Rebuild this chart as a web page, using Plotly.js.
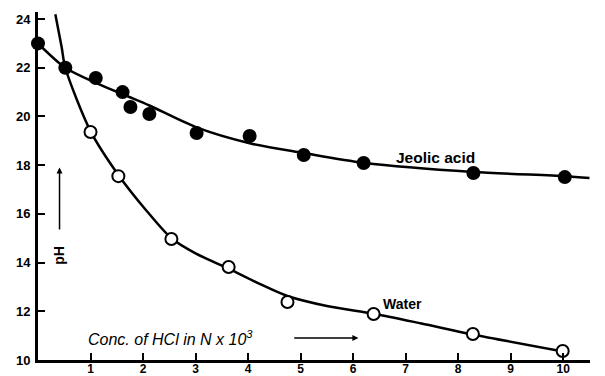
<!DOCTYPE html>
<html>
<head>
<meta charset="utf-8">
<script src="https://cdn.plot.ly/plotly-3.0.1.min.js"></script>
<style>html,body{margin:0;padding:0;background:#fff;}#chart{width:605px;height:376px;}</style>
</head>
<body>
<div id="chart"></div>
<script>
// Measured points
var jeolicX = [0, 0.52, 1.1, 1.61, 1.76, 2.12, 3.02, 4.03, 5.06, 6.2, 8.29, 10.03];
var jeolicY = [23.0, 22.0, 21.58, 21.0, 20.39, 20.1, 19.32, 19.2, 18.42, 18.09, 17.68, 17.51];
var waterX = [1.0, 1.53, 2.54, 3.63, 4.75, 6.39, 8.28, 9.99];
var waterY = [19.36, 17.55, 14.97, 13.82, 12.38, 11.89, 11.07, 10.37];
// Smooth curves
var jeolicCurveX = [0, 0.52, 1.11, 1.74, 2.12, 3.02, 4.03, 5.06, 6.2, 8.29, 10.03, 10.5];
var jeolicCurveY = [23.0, 22.0, 21.37, 20.8, 20.45, 19.55, 18.9, 18.5, 18.1, 17.72, 17.55, 17.47];
var waterCurveX = [0.33, 0.45, 0.52, 1.0, 1.53, 2.07, 2.54, 3.0, 3.63, 4.22, 4.75, 5.5, 6.39, 7.3, 8.28, 10.0];
var waterCurveY = [24.2, 22.85, 22.0, 19.4, 17.6, 16.12, 15.0, 14.38, 13.75, 13.13, 12.63, 12.22, 11.9, 11.5, 11.05, 10.35];
var xTicks = [1, 2, 3, 4, 5, 6, 7, 8, 9, 10];
var yTicks = [10, 12, 14, 16, 18, 20, 22, 24];

var F = "Liberation Sans, Arial, sans-serif";
var traces = [
  {x: jeolicCurveX, y: jeolicCurveY, mode: "lines", line: {color: "#000", width: 2.5, shape: "spline", smoothing: 0.8}, hoverinfo: "skip"},
  {x: waterCurveX, y: waterCurveY, mode: "lines", line: {color: "#000", width: 2.5, shape: "spline", smoothing: 0.8}, hoverinfo: "skip"},
  {x: jeolicX, y: jeolicY, mode: "markers", marker: {color: "#000", size: 14, line: {width: 0}}, cliponaxis: false},
  {x: waterX, y: waterY, mode: "markers", marker: {color: "#fff", size: 12, line: {color: "#000", width: 2}}, cliponaxis: false}
];
var layout = {
  width: 605, height: 376,
  margin: {l: 38, r: 15, t: 12, b: 16},
  paper_bgcolor: "#fff", plot_bgcolor: "#fff",
  showlegend: false,
  font: {family: F, color: "#000"},
  xaxis: {
    range: [0, 10.51], tickvals: xTicks, ticktext: xTicks.map(function(v){return "<b>"+v+"</b>";}),
    ticks: "inside", ticklen: 7, tickwidth: 2, tickcolor: "#000",
    showline: true, linecolor: "#000", linewidth: 3, showgrid: false, zeroline: false,
    tickfont: {size: 12, family: F}, ticklabelstandoff: -4
  },
  yaxis: {
    range: [10, 24.29], tickvals: yTicks, ticktext: yTicks.map(function(v){return "<b>"+v+"</b>";}),
    ticks: "inside", ticklen: 7, tickwidth: 2, tickcolor: "#000",
    showline: true, linecolor: "#000", linewidth: 3, showgrid: false, zeroline: false,
    tickfont: {size: 13, family: F}, ticklabelstandoff: 2
  },
  annotations: [
    {x: 7.57, y: 18.33, xref: "x", yref: "y", text: "<b>Jeolic acid</b>", showarrow: false, font: {size: 15.5, family: F}, xanchor: "center"},
    {x: 6.94, y: 12.3, xref: "x", yref: "y", text: "<b>Water</b>", showarrow: false, font: {size: 14, family: F}, xanchor: "center"},
    {x: 0.92, y: 10.9, xref: "x", yref: "y", text: "<i>Conc. of HCl in N x 10<sup>3</sup></i>", showarrow: false, font: {size: 16, family: F}, xanchor: "left"},
    {x: 6.1, y: 10.9, ax: 4.85, ay: 10.9, axref: "x", ayref: "y", xref: "x", yref: "y", text: "", showarrow: true, arrowhead: 2, arrowsize: 0.8, arrowwidth: 1.5, arrowcolor: "#000"},
    {x: 0.41, y: 17.9, ax: 0.41, ay: 15.3, axref: "x", ayref: "y", xref: "x", yref: "y", text: "", showarrow: true, arrowhead: 2, arrowsize: 0.8, arrowwidth: 1.5, arrowcolor: "#000"},
    {x: 0.41, y: 14.3, xref: "x", yref: "y", text: "<b>pH</b>", textangle: -90, showarrow: false, font: {size: 14, family: F}},
    {x: 10.52, y: 10.45, xref: "x", yref: "y", text: "<b>%</b>", showarrow: false, font: {size: 10, family: F}, xanchor: "left"}
  ]
};
Plotly.newPlot("chart", traces, layout, {staticPlot: true, displayModeBar: false});
</script>
</body>
</html>
